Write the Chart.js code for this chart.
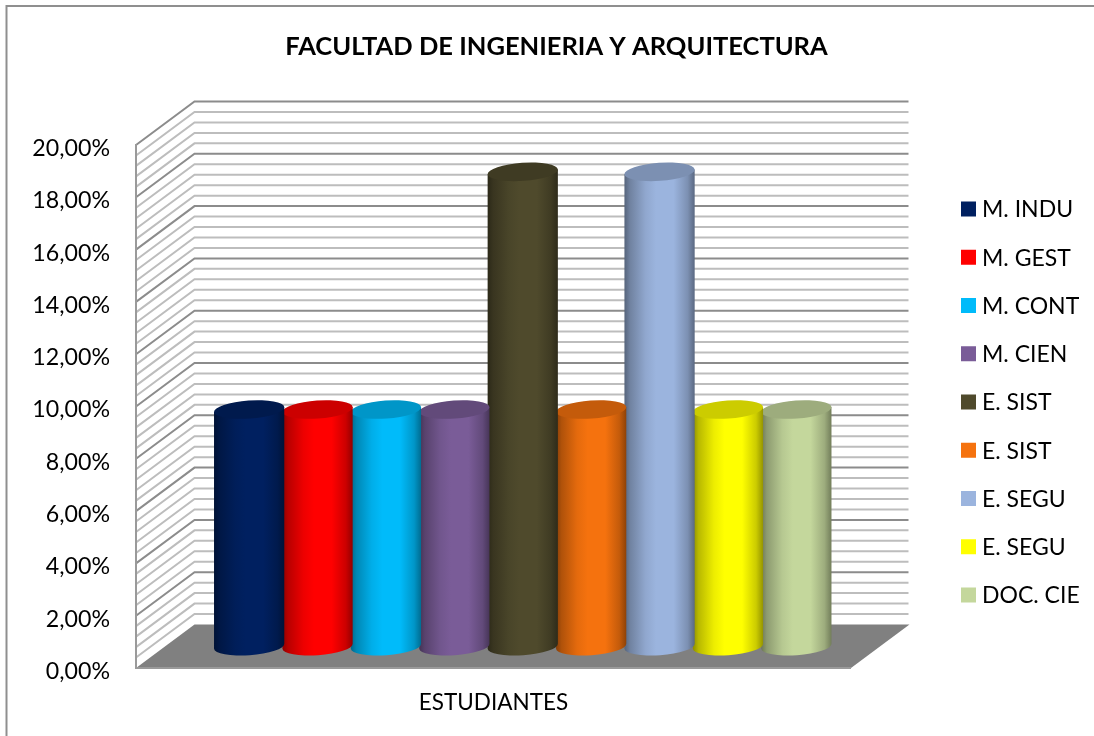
<!DOCTYPE html>
<html><head><meta charset="utf-8">
<style>html,body{margin:0;padding:0;background:#fff}#w{width:1094px;height:736px;position:relative}</style>
<script src="https://cdn.jsdelivr.net/npm/chart.js@4"></script>
</head><body><div id="w"><canvas id="c" width="1094" height="736"></canvas></div>
<script>
const categories = ['ESTUDIANTES'];
const seriesNames = ['M. INDU','M. GEST','M. CONT','M. CIEN','E. SIST','E. SIST','E. SEGU','E. SEGU','DOC. CIE'];
const seriesValues = [9.09,9.09,9.09,9.09,18.18,9.09,18.18,9.09,9.09];
const seriesColors = ['#002060','#FF0000','#00BBFA','#7A5C98','#4F4A2C','#F5720E','#9BB4DE','#FFFF00','#C4D79C'];
const yTicks = [0,2,4,6,8,10,12,14,16,18,20];
const minorStep = 0.4;
const titleText = 'FACULTAD DE INGENIERIA Y ARQUITECTURA';

const FONT = 'Lato, Carlito, Calibri, sans-serif';
const DEPTH_X = 58.5, DEPTH_Y = -43.5;
function shade(hex, k){
  const n = parseInt(hex.slice(1),16);
  const f = v => Math.round(v*k);
  return `rgb(${f(n>>16&255)},${f(n>>8&255)},${f(n&255)})`;
}
const wallsPlugin = {
  id:'walls',
  beforeDatasetsDraw(chart){
    const {ctx, chartArea:a, scales:{y}} = chart;
    ctx.save();
    ctx.strokeStyle='#8f8f8f'; ctx.lineWidth=2;
    ctx.beginPath(); ctx.moveTo(6.5,736); ctx.lineTo(6.5,6); ctx.lineTo(1094,6); ctx.stroke();
    ctx.fillStyle='#808080';
    ctx.beginPath(); ctx.moveTo(a.left,a.bottom); ctx.lineTo(a.left+DEPTH_X,a.bottom+DEPTH_Y);
    ctx.lineTo(a.right+DEPTH_X,a.bottom+DEPTH_Y); ctx.lineTo(a.right,a.bottom); ctx.closePath(); ctx.fill();
    const n = Math.round(20/minorStep);
    for(let i=n;i>=1;i--){
      const v=i*minorStep, p=y.getPixelForValue(v), major=i%5===0;
      ctx.strokeStyle=major?'#8c8c8c':'#bdbdbd'; ctx.lineWidth=2;
      ctx.beginPath(); ctx.moveTo(a.left,p); ctx.lineTo(a.left+DEPTH_X,p+DEPTH_Y); ctx.lineTo(a.right+DEPTH_X-1,p+DEPTH_Y); ctx.stroke();
    }
    ctx.strokeStyle='#9a9a9a'; ctx.lineWidth=2;
    ctx.beginPath(); ctx.moveTo(a.left,a.top-1); ctx.lineTo(a.left,a.bottom); ctx.lineTo(a.right,a.bottom); ctx.stroke();
    ctx.restore();
  },
  beforeDatasetDraw(chart,args){
    const {ctx} = chart;
    const el = args.meta.data[0];
    const color = seriesColors[args.index];
    const rx = el.width/2+1, ry=9, rot=-0.07;
    const dx = DEPTH_X/2, dy = DEPTH_Y/2;
    const cx = el.x+dx, top = el.y+dy+1, bot = el.base+dy;
    const ox = rx*Math.cos(rot), oy = rx*Math.sin(rot);
    const g = ctx.createLinearGradient(cx-rx,0,cx+rx,0);
    [[0,.55],[.08,.72],[.3,.93],[.45,1],[.7,1],[.9,.8],[1,.58]].forEach(([s,k])=>g.addColorStop(s,shade(color,k)));
    ctx.save();
    ctx.fillStyle=g;
    ctx.beginPath();
    ctx.moveTo(cx-ox,top-oy);
    ctx.lineTo(cx-ox,bot-oy);
    ctx.ellipse(cx,bot,rx,ry,rot,Math.PI,0,true);
    ctx.lineTo(cx+ox,top+oy);
    ctx.closePath(); ctx.fill();
    ctx.fillStyle=shade(color,.8);
    ctx.beginPath(); ctx.ellipse(cx,top,rx,ry,rot,0,Math.PI*2); ctx.fill();
    ctx.restore();
    return false;
  },
  afterLayout(chart){
    const l=chart.legend;
    l.left = 961 - l.options.labels.padding;
    l.top += 35; l.bottom += 35;
    chart.titleBlock.left += 9.5; chart.titleBlock.right += 9.5;
  },
  afterDraw(chart){
    // legend keys at the reference's full size
    const {ctx} = chart, n = seriesNames.length;
    const rowH = 25.25 + 23, first = 209;
    ctx.save();
    for(let i=0;i<n;i++){
      ctx.fillStyle=seriesColors[i];
      ctx.fillRect(961, first + i*rowH - 7.5, 15, 15);
    }
    ctx.restore();
  }
};
const cfg = {
  type:'bar',
  data:{labels:categories,datasets:seriesNames.map((n,i)=>({label:n,data:[seriesValues[i]],backgroundColor:seriesColors[i],borderWidth:0}))},
  plugins:[wallsPlugin],
  options:{
    responsive:false,animation:false,
    layout:{padding:0},
    datasets:{bar:{categoryPercentage:0.861,barPercentage:1}},
    plugins:{
      tooltip:{enabled:false},
      title:{display:true,text:titleText,color:'#000',font:{family:FONT,size:25.5,weight:'bold'},padding:{top:31,bottom:83.4}},
      legend:{display:true,position:'right',
        labels:{boxWidth:9.5,boxHeight:9,padding:25.25,color:'#000',font:{family:FONT,size:23}}}
    },
    scales:{
      x:{grid:{display:false},border:{display:false},
        ticks:{color:'#000',font:{family:FONT,size:22.5},padding:13},
        afterFit(s){s.height=68;}},
      y:{min:0,max:20,grid:{display:false},border:{display:false},
        afterBuildTicks(s){s.ticks=yTicks.map(v=>({value:v}));},
        ticks:{color:'#000',font:{family:FONT,size:23.2},padding:18,labelOffset:3.5,
          callback:v=>v.toFixed(2).replace('.',',')+'%'},
        afterFit(s){s.width=136;}}
    }
  }
};
const fixBoxes = {id:'fixBoxes',afterInit(chart){
  const l=chart.legend, f=l.fit;
  l.fit=function(){f.call(this); this.width=243;};
}};
cfg.plugins.push(fixBoxes);
new Chart(document.getElementById('c'),cfg);
</script></body></html>
